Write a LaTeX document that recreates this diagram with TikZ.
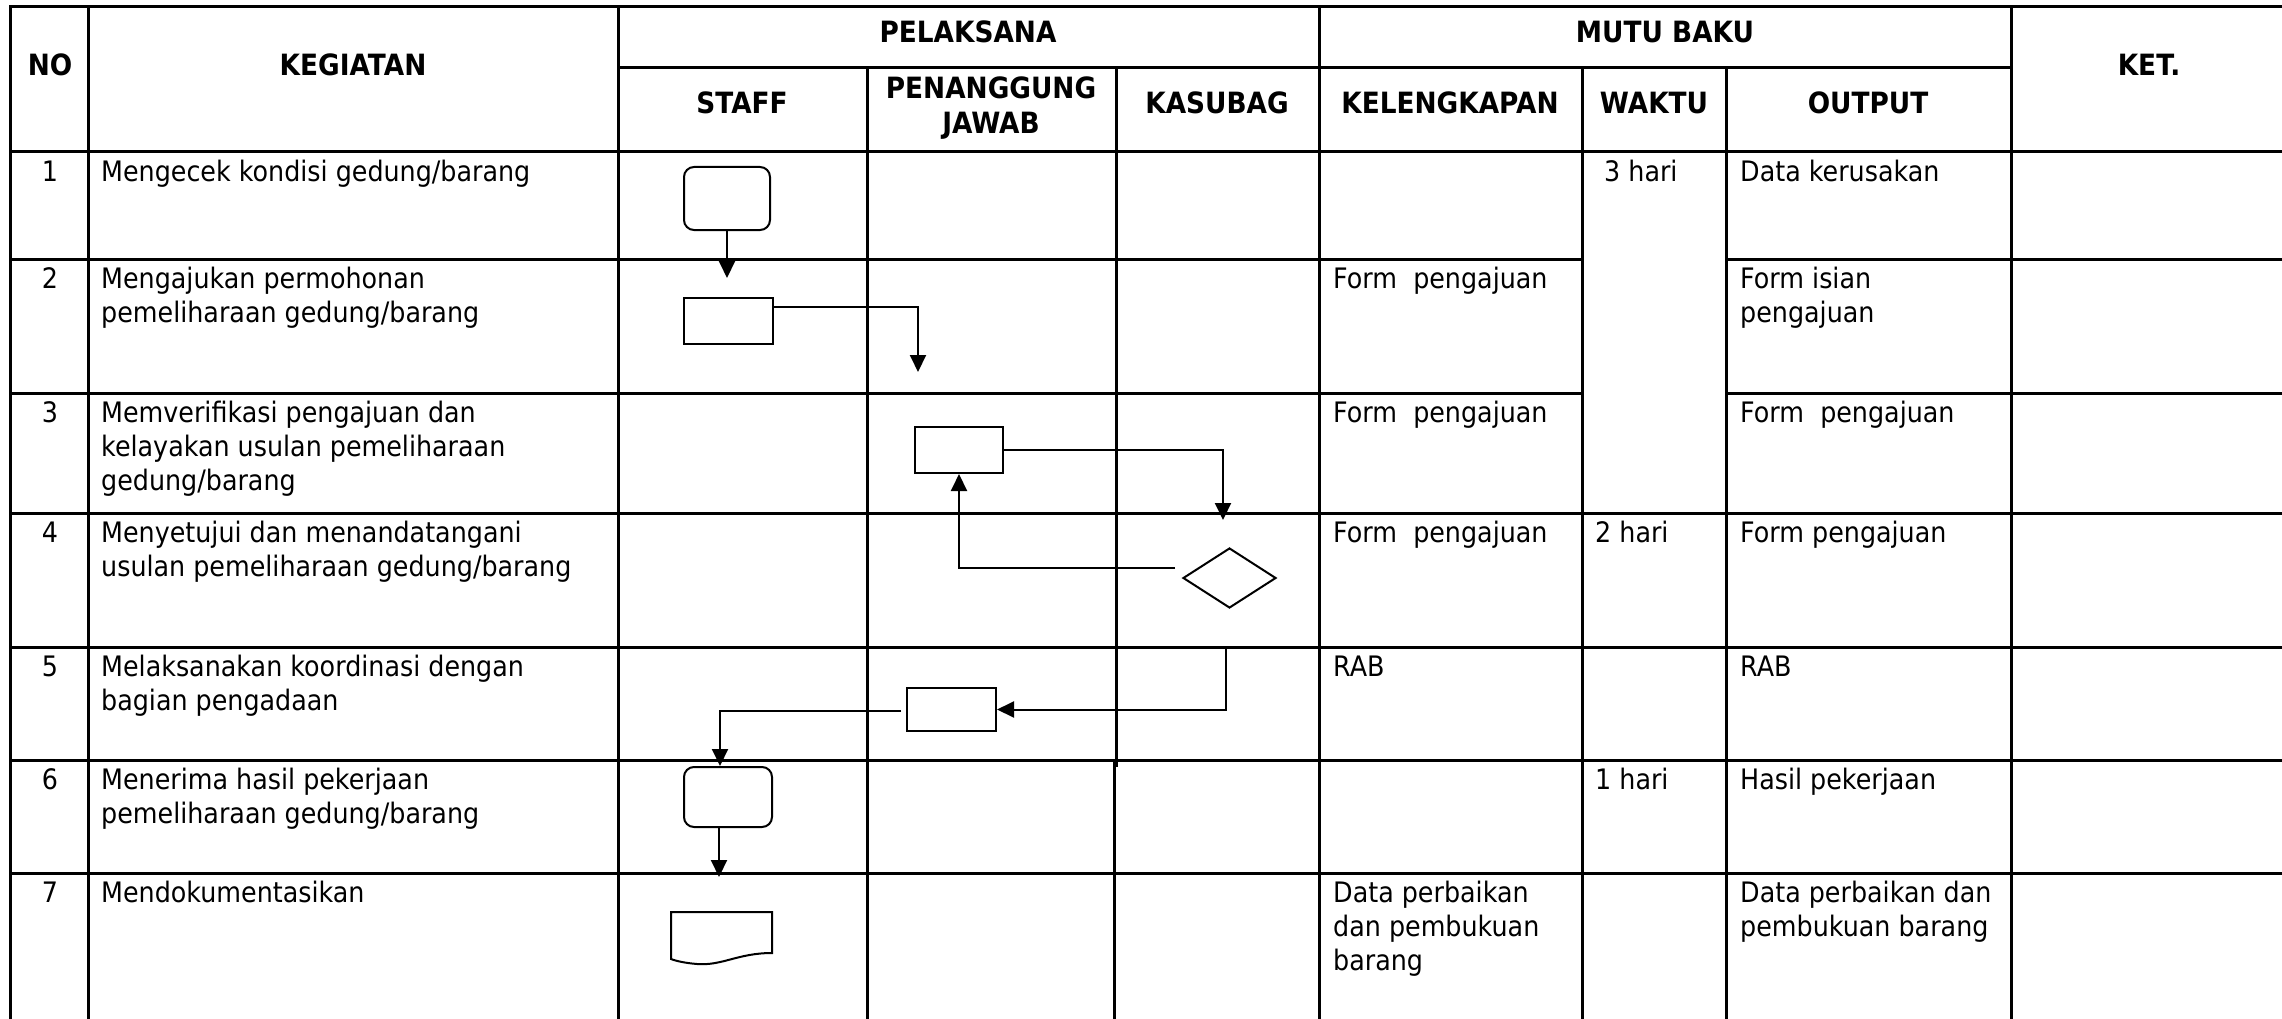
\documentclass[tikz,border=0pt]{standalone}
\usepackage{fontspec}
\setmainfont{DejaVu Sans}[FakeStretch=0.9]
\usetikzlibrary{arrows.meta,shapes.geometric}
\newcommand\bodyfont{\fontsize{28.2}{34}\selectfont}
\newcommand\headfont{\fontsize{29.3}{35}\selectfont\bfseries}
\newcommand\lnstrut{\rule{0pt}{24pt}}
\begin{document}
\begin{tikzpicture}[x=1pt,y=-1pt,
  grid/.style={line width=3pt,line cap=rect},
  sline/.style={line width=2pt},
  fbox/.style={draw,line width=2pt,rectangle,inner sep=0pt},
  rbox/.style={fbox,rounded corners=10pt},
  dbox/.style={draw,line width=2pt,diamond,inner sep=0pt},
  conn/.style={line width=2pt,-{Triangle[width=16pt,length=17pt]}},
  txt/.style={anchor=north west,inner sep=0pt,align=left,font=\bodyfont},
  num/.style={anchor=north,inner sep=0pt,font=\bodyfont},
  hd/.style={anchor=base,inner sep=0pt,font=\headfont}]
\useasboundingbox (0,0) rectangle (2282,1019);
% grid
\draw[grid] (10,7) -- (2282,7);
\draw[grid] (618,68) -- (2011,68);
\draw[grid] (10,152) -- (2282,152);
\foreach \y in {259,393} {\draw[grid] (10,\y) -- (1582,\y); \draw[grid] (1726,\y) -- (2282,\y);}
\foreach \y in {513,647,760,873} {\draw[grid] (10,\y) -- (2282,\y);}
\foreach \x in {10,88,618,1319,2011} {\draw[grid] (\x,7) -- (\x,1019);}
\foreach \x in {867,1582,1726} {\draw[grid] (\x,68) -- (\x,1019);}
\draw[grid] (1116,68) -- (1116,765);
\draw[grid] (1114,760) -- (1114,1019);
% headers
\node[hd] (hno) at (50,76) {NO};
\node[hd] (hkeg) at (353,76) {KEGIATAN};
\node[hd] (hpel) at (968,43) {PELAKSANA};
\node[hd] (hstaff) at (742,114) {STAFF};
\node[anchor=north,inner sep=0pt,align=center,font=\headfont] (hpj) at (991,74) {\lnstrut PENANGGUNG\\JAWAB};
\node[hd] (hkas) at (1217,114) {KASUBAG};
\node[hd] (hmutu) at (1665,43) {MUTU BAKU};
\node[hd] (hkel) at (1450,114) {KELENGKAPAN};
\node[hd] (hwak) at (1654,114) {WAKTU};
\node[hd] (hout) at (1868,114) {OUTPUT};
\node[hd] (hket) at (2149,76) {KET.};
% numbers
\node[num] (n1) at (50,157) {\lnstrut 1};
\node[num] (n2) at (50,264) {\lnstrut 2};
\node[num] (n3) at (50,398) {\lnstrut 3};
\node[num] (n4) at (50,518) {\lnstrut 4};
\node[num] (n5) at (50,652) {\lnstrut 5};
\node[num] (n6) at (50,765) {\lnstrut 6};
\node[num] (n7) at (50,878) {\lnstrut 7};
% kegiatan
\node[txt] (k1) at (101,157) {\lnstrut Mengecek kondisi gedung/barang};
\node[txt] (k2) at (101,264) {\lnstrut Mengajukan permohonan\\pemeliharaan gedung/barang};
\node[txt] (k3) at (101,398) {\lnstrut Memverifikasi pengajuan dan\\kelayakan usulan pemeliharaan\\gedung/barang};
\node[txt] (k4) at (101,518) {\lnstrut Menyetujui dan menandatangani\\usulan pemeliharaan gedung/barang};
\node[txt] (k5) at (101,652) {\lnstrut Melaksanakan koordinasi dengan\\bagian pengadaan};
\node[txt] (k6) at (101,765) {\lnstrut Menerima hasil pekerjaan\\pemeliharaan gedung/barang};
\node[txt] (k7) at (101,878) {\lnstrut Mendokumentasikan};
% kelengkapan
\node[txt] (l2) at (1333,264) {\lnstrut Form~~pengajuan};
\node[txt] (l3) at (1333,398) {\lnstrut Form~~pengajuan};
\node[txt] (l4) at (1333,518) {\lnstrut Form~~pengajuan};
\node[txt] (l5) at (1333,652) {\lnstrut RAB};
\node[txt] (l7) at (1333,878) {\lnstrut Data perbaikan\\dan pembukuan\\barang};
% waktu
\node[txt] (w1) at (1604,157) {\lnstrut 3 hari};
\node[txt] (w4) at (1595,518) {\lnstrut 2 hari};
\node[txt] (w6) at (1595,765) {\lnstrut 1 hari};
% output
\node[txt] (o1) at (1740,157) {\lnstrut Data kerusakan};
\node[txt] (o2) at (1740,264) {\lnstrut Form isian\\pengajuan};
\node[txt] (o3) at (1740,398) {\lnstrut Form~~pengajuan};
\node[txt] (o4) at (1740,518) {\lnstrut Form pengajuan};
\node[txt] (o5) at (1740,652) {\lnstrut RAB};
\node[txt] (o6) at (1740,765) {\lnstrut Hasil pekerjaan};
\node[txt] (o7) at (1740,878) {\lnstrut Data perbaikan dan\\pembukuan barang};
% flow shapes
\node[rbox,minimum width=86pt,minimum height=63pt] (s1) at (727,198.5) {};
\node[fbox,minimum width=89pt,minimum height=46pt] (s2) at (728.5,321) {};
\node[fbox,minimum width=88pt,minimum height=46pt] (s3) at (959,450) {};
\node[dbox,minimum width=93pt,minimum height=60pt] (s4) at (1229.5,578) {};
\node[fbox,minimum width=89pt,minimum height=43pt] (s5) at (951.5,709.5) {};
\node[rbox,minimum width=88pt,minimum height=60pt] (s6) at (728,797) {};
\node[inner sep=0pt,minimum width=101pt,minimum height=52pt] (s7) at (721.5,938) {};
\draw[sline,line join=miter] (671,912) -- (772,912) -- (772,953)
  .. controls (738,953) and (722,966) .. (697,964)
  .. controls (685,963) and (676,961) .. (671,959) -- cycle;
% connectors
\coordinate (a1) at (727,278);
\coordinate (a2) at (918,372);
\coordinate (a3) at (1223,520);
\coordinate (a5) at (1226,647);
\coordinate (a7) at (719,877);
\draw[conn] (s1.south) -- (a1);
\draw[conn] ([yshift=14pt]s2.east) -| (a2);
\draw[conn] (s3.east) -| (a3);
\draw[conn] ([xshift=-7pt,yshift=10pt]s4.west) -| (s3.south);
\draw[conn] (a5) |- (s5.east);
\draw[conn] ([xshift=-5pt,yshift=-1.5pt]s5.west) -| ([xshift=-8pt]s6.north);
\draw[conn] ([xshift=-9pt]s6.south) -- (a7);
\end{tikzpicture}
\end{document}
